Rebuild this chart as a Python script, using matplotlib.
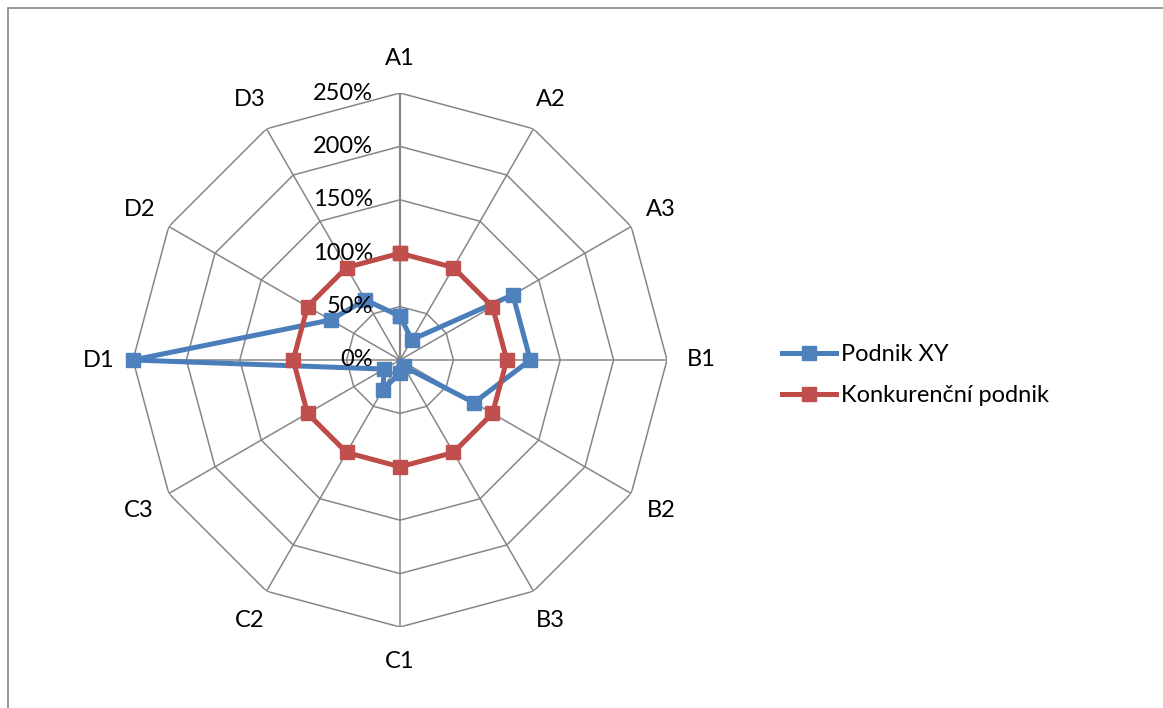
import numpy as np
import matplotlib.pyplot as plt
from matplotlib.patches import Rectangle

plt.rcParams['font.family'] = ['Lato', 'DejaVu Sans']

categories = ['A1', 'A2', 'A3', 'B1', 'B2', 'B3', 'C1', 'C2', 'C3', 'D1', 'D2', 'D3']
podnik_xy = [41, 22, 122, 122, 80, 7, 12, 32, 17, 250, 75, 65]
konkurence = [100, 100, 100, 100, 100, 100, 100, 100, 100, 100, 100, 100]
ring_values = [0, 50, 100, 150, 200, 250]
ring_labels = ['0%', '50%', '100%', '150%', '200%', '250%']

W, H = 1163, 708
fig = plt.figure(figsize=(W / 100, H / 100), dpi=100)

# chart area border (only top and left edges are visible)
fig.patches.append(Rectangle((8 / W, -0.1), 1.2, 1 - 8 / H + 0.1, transform=fig.transFigure,
                             fill=False, edgecolor='#878787', lw=1.2))

cx, cy, R = 400, 360, 267
ax = fig.add_axes([(cx - R) / W, (H - cy - R) / H, 2 * R / W, 2 * R / H], projection='polar')
ax.set_theta_offset(np.pi / 2)
ax.set_theta_direction(-1)
ax.set_ylim(0, ring_values[-1])
ax.axis('off')

n = len(categories)
theta = np.arange(n) * 2 * np.pi / n
closed = np.append(theta, theta[0])

# polygon grid and spokes
grid_c = '#868686'
for r in ring_values[1:]:
    ax.plot(closed, [r] * (n + 1), color=grid_c, lw=1.1, zorder=1)
for i, t in enumerate(theta):
    ax.plot([t, t], [0, ring_values[-1]], color=grid_c, lw=1.6 if i == 0 else 1.1, zorder=1)

ax.plot(closed, podnik_xy + podnik_xy[:1], color='#4A7EBB', lw=3.6, marker='s', ms=10.5,
        mfc='#4F81BD', mec='#4F81BD', label='Podnik XY', zorder=3, clip_on=False)
ax.plot(closed, konkurence + konkurence[:1], color='#BE4B48', lw=3.6, marker='s', ms=10.5,
        mfc='#C0504D', mec='#C0504D', label='Konkurenční podnik', zorder=4, clip_on=False)

# radial value labels left of the A1 spoke
for r, lab in zip(ring_values, ring_labels):
    ax.annotate(lab, xy=(0, r), xytext=(-27, 0), textcoords='offset pixels',
                ha='right', va='center', fontsize=17, color='#000000')

# category labels around the outside
for t, lab in zip(theta, categories):
    ax.text(t, 282, lab, ha='center', va='center', fontsize=17, color='#000000')

fig.legend(loc='center left', bbox_to_anchor=(770 / W, 1 - 375 / H), frameon=False,
           fontsize=17, handlelength=2.3, handletextpad=0.2, labelspacing=0.85,
           borderpad=0)

fig.savefig('out.png', dpi=100)
